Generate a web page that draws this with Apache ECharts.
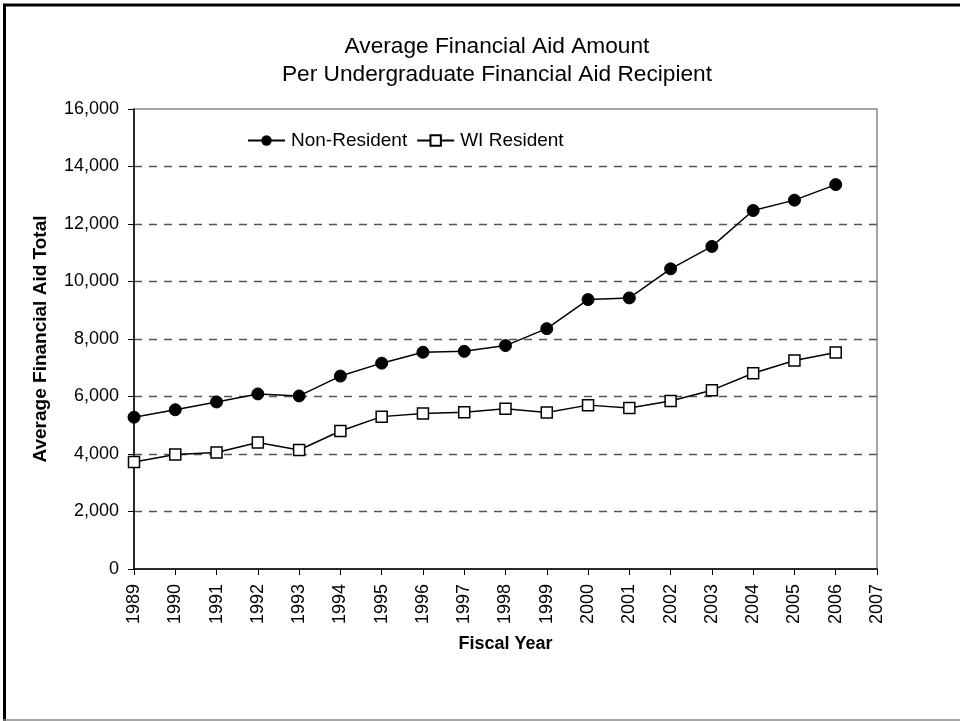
<!DOCTYPE html>
<html>
<head>
<meta charset="utf-8">
<script src="https://cdn.jsdelivr.net/npm/echarts@6/dist/echarts.min.js"></script>
<style>
html,body{margin:0;padding:0;background:#fff;}
#c{width:960px;height:721px;}
</style>
</head>
<body>
<div id="c"></div>
<script>
var years = ['1989','1990','1991','1992','1993','1994','1995','1996','1997','1998','1999','2000','2001','2002','2003','2004','2005','2006','2007'];
var nonResident = [5280, 5540, 5810, 6090, 6020, 6710, 7160, 7540, 7570, 7770, 8360, 9370, 9430, 10440, 11220, 12470, 12830, 13370];
var wiResident = [3720, 3980, 4050, 4400, 4140, 4800, 5300, 5410, 5450, 5570, 5440, 5700, 5600, 5840, 6220, 6810, 7250, 7530];
var yTicks = { min: 0, max: 16000, interval: 2000 };

var FONT = '"Liberation Sans", Arial, sans-serif';
var chart = echarts.init(document.getElementById('c'), null, { renderer: 'canvas' });
chart.setOption({
  backgroundColor: '#fff',
  animation: false,
  textStyle: { fontFamily: FONT, color: '#000' },
  title: {
    text: 'Average Financial Aid Amount\nPer Undergraduate Financial Aid Recipient',
    left: 492, top: 28, textAlign: 'center',
    textStyle: { fontFamily: FONT, fontSize: 22.7, fontWeight: 'normal', color: '#000', lineHeight: 28 }
  },
  legend: {
    left: 242, top: 126,
    itemWidth: 37, itemHeight: 13, itemGap: 9,
    textStyle: { fontFamily: FONT, fontSize: 19, color: '#000', padding: [0,0,0,1] },
    data: ['Non-Resident', 'WI Resident']
  },
  grid: {
    left: 134, right: 83, top: 109, bottom: 152,
    show: true, borderColor: '#888', borderWidth: 1.5, backgroundColor: 'transparent'
  },
  xAxis: {
    type: 'category', data: years, boundaryGap: false,
    name: 'Fiscal Year', nameLocation: 'middle', nameGap: 66,
    nameTextStyle: { fontFamily: FONT, fontSize: 18, fontWeight: 'bold', color: '#000' },
    axisLine: { lineStyle: { color: '#000', width: 1.5 } },
    axisTick: { show: true, length: 6, lineStyle: { color: '#000' } },
    axisLabel: { rotate: 90, fontSize: 18, color: '#000', margin: 15, fontFamily: FONT, interval: 0 },
    splitLine: { show: false }
  },
  yAxis: {
    type: 'value', min: yTicks.min, max: yTicks.max, interval: yTicks.interval,
    name: 'Average Financial Aid Total', nameLocation: 'middle', nameGap: 84,
    nameTextStyle: { fontFamily: FONT, fontSize: 19, fontWeight: 'bold', color: '#000' },
    axisLine: { show: true, lineStyle: { color: '#000', width: 1.5 } },
    axisTick: { show: true, length: 6, lineStyle: { color: '#000' } },
    axisLabel: {
      fontSize: 18, color: '#000', margin: 15, fontFamily: FONT,
      formatter: function (v) { return v.toLocaleString('en-US'); }
    },
    splitLine: { show: true, showMinLine: false, showMaxLine: false, lineStyle: { color: '#555', type: [8, 7], width: 1.3 } }
  },
  series: [
    {
      name: 'Non-Resident', type: 'line', data: nonResident,
      symbol: 'circle', symbolSize: 12,
      lineStyle: { color: '#000', width: 1.5 },
      itemStyle: { color: '#000', borderColor: '#000' }
    },
    {
      name: 'WI Resident', type: 'line', data: wiResident,
      symbol: 'rect', symbolSize: 11,
      lineStyle: { color: '#000', width: 1.5 },
      itemStyle: { color: '#fff', borderColor: '#000', borderWidth: 1.5 }
    }
  ],
  graphic: [
    { type: 'line', shape: { x1: 4.5, y1: 5, x2: 4.5, y2: 721 }, style: { stroke: '#000', lineWidth: 3 } },
    { type: 'line', shape: { x1: 3, y1: 5, x2: 960, y2: 5 }, style: { stroke: '#000', lineWidth: 3 } },
    { type: 'line', shape: { x1: 3, y1: 720, x2: 960, y2: 720 }, style: { stroke: '#888', lineWidth: 1.5 } }
  ]
});
</script>
</body>
</html>
